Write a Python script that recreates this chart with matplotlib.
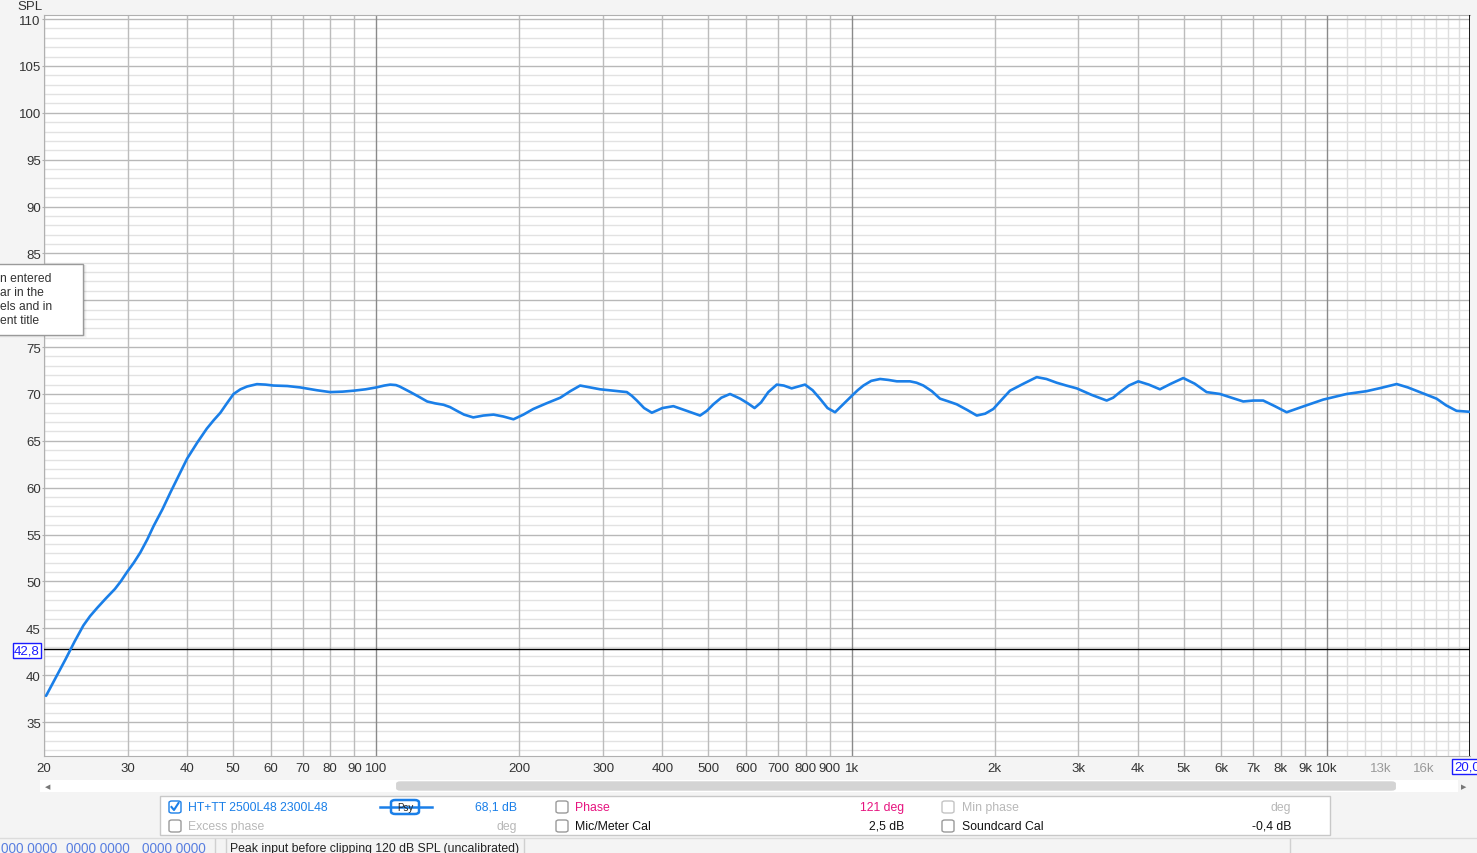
import matplotlib.pyplot as plt
from matplotlib.patches import FancyBboxPatch, Rectangle
from matplotlib.lines import Line2D

plt.rcParams['font.family'] = ['Liberation Sans', 'DejaVu Sans']

freq = [20.2, 21.2, 22.2, 23.2, 24.2, 25.0, 25.9, 27.0, 28.2, 29.0,
        29.9, 30.9, 31.9, 33.0, 34.0, 35.5, 36.9, 38.5, 40.0, 42.0,
        44.0, 45.5, 47.0, 48.5, 50.1, 51.8, 53.5, 56.1, 58.5, 60.8,
        65, 69.2, 75, 80, 85, 89.6, 95, 100, 104, 107,
        110, 112, 115, 118, 123, 128, 133, 138.5, 143, 147.8,
        153, 160, 168, 176.5, 185, 194.4, 204, 214, 228, 243.8,
        256, 268.5, 282, 295.8, 315, 336.7, 345, 353.4, 366, 380,
        400, 421.9, 450, 480, 496, 512, 532, 555, 583, 605,
        625, 645, 668, 696, 720, 748, 772, 798, 828, 858,
        890, 923, 960, 1001, 1030, 1059, 1100, 1148, 1195, 1245,
        1285, 1327, 1370, 1416, 1475, 1535, 1600, 1664, 1750, 1834,
        1910, 1987, 2070, 2154, 2300, 2452, 2570, 2701, 2830, 2976,
        3200, 3441, 3550, 3670, 3830, 4011, 4220, 4454, 4700, 4986,
        5270, 5585, 5957, 6300, 6668, 7000, 7345, 7770, 8228, 8950,
        9821, 10400, 11000, 12120, 13000, 14020, 14800, 15690, 17010, 17800,
        18740, 19990]
spl = [37.8, 39.8, 41.7, 43.6, 45.3, 46.3, 47.2, 48.2, 49.2, 50.0,
       51.0, 52.0, 53.1, 54.5, 55.9, 57.7, 59.5, 61.4, 63.1, 64.8,
       66.3, 67.2, 68.0, 69.0, 70.0, 70.5, 70.8, 71.05, 71.0, 70.9,
       70.85, 70.7, 70.4, 70.2, 70.25, 70.35, 70.5, 70.7, 70.9, 71.0,
       70.95, 70.8, 70.5, 70.2, 69.7, 69.2, 69.0, 68.85, 68.6, 68.2,
       67.8, 67.5, 67.7, 67.8, 67.6, 67.3, 67.8, 68.4, 69.0, 69.6,
       70.3, 70.9, 70.7, 70.5, 70.35, 70.2, 69.8, 69.3, 68.5, 68.0,
       68.5, 68.7, 68.2, 67.7, 68.2, 68.9, 69.6, 70.0, 69.5, 69.0,
       68.5, 69.1, 70.2, 71.0, 70.9, 70.6, 70.8, 71.0, 70.4, 69.5,
       68.5, 68.05, 68.9, 69.8, 70.4, 70.9, 71.4, 71.6, 71.5, 71.35,
       71.35, 71.35, 71.2, 70.9, 70.3, 69.5, 69.2, 68.9, 68.3, 67.7,
       67.9, 68.4, 69.4, 70.35, 71.1, 71.8, 71.6, 71.2, 70.9, 70.6,
       69.9, 69.3, 69.6, 70.2, 70.9, 71.35, 71.0, 70.5, 71.1, 71.7,
       71.1, 70.2, 70.0, 69.6, 69.2, 69.3, 69.3, 68.7, 68.05, 68.7,
       69.4, 69.7, 70.0, 70.3, 70.65, 71.06, 70.7, 70.2, 69.5, 68.8,
       68.2, 68.1]

xtick_vals = [20, 30, 40, 50, 60, 70, 80, 90, 100, 200, 300, 400, 500, 600, 700,
              800, 900, 1000, 2000, 3000, 4000, 5000, 6000, 7000, 8000, 9000,
              10000, 13000, 16000]
xtick_labels = ['20', '30', '40', '50', '60', '70', '80', '90', '100', '200', '300',
                '400', '500', '600', '700', '800', '900', '1k', '2k', '3k', '4k',
                '5k', '6k', '7k', '8k', '9k', '10k', '13k', '16k']
ytick_vals = list(range(35, 111, 5))
# the 80 label sits under the tooltip in the screenshot
ytick_labels = ['' if v == 80 else str(v) for v in ytick_vals]

cursor_spl = 42.8
cursor_freq = 20000

W, H = 1477, 854


def fx(x):
    return x / W


def fy(y):
    return 1 - y / H


fig = plt.figure(figsize=(W / 100, H / 100), dpi=100, facecolor='#f4f4f4')
ax = fig.add_axes([fx(44), fy(757), fx(1470) - fx(44), fy(16) - fy(757)])
ax.set_facecolor('white')
ax.set_xscale('log')
ax.set_xlim(20, 20000)
ax.set_ylim(31.38, 110.43)

# grid
ax.hlines([v for v in range(32, 111) if v % 5], 20, 20000, colors='#e2e2e2', lw=1, zorder=1)
ax.hlines(ytick_vals, 20, 20000, colors='#b8b8b8', lw=1, zorder=2)
light_x = [11000, 12000, 13000, 14000, 15000, 16000, 17000, 18000, 19000]
mid_x = [v for v in xtick_vals if v not in (100, 1000, 10000) and v < 10000]
ax.vlines(light_x, 0, 200, colors='#dedede', lw=1, zorder=1)
ax.vlines(mid_x, 0, 200, colors='#bcbcbc', lw=1, zorder=2)
ax.vlines([100, 1000, 10000], 0, 200, colors='#8a8a8a', lw=1, zorder=2)

ax.plot(freq, spl, color='#1a7fe8', lw=1.9, zorder=5, solid_capstyle='round',
        solid_joinstyle='round')

# cursors
ax.axhline(cursor_spl, color='black', lw=1, zorder=4)
ax.axvline(cursor_freq, color='black', lw=2, zorder=4)

ax.set_xticks(xtick_vals, xtick_labels)
ax.xaxis.set_minor_locator(plt.NullLocator())
ax.set_yticks(ytick_vals, ytick_labels)
ax.tick_params(axis='both', color='#b0b0b0', labelsize=9.5, labelcolor='#333333')
ax.tick_params(axis='y', length=1.5, pad=0.8)
ax.tick_params(axis='x', length=0, pad=4)
for lbl in ax.get_xticklabels():
    if lbl.get_text() in ('13k', '16k'):
        lbl.set_color('#999999')
for side in ('left', 'bottom', 'top'):
    ax.spines[side].set_color('#b0b0b0')
ax.spines['right'].set_visible(False)

fig.text(fx(30), fy(6.5), 'SPL', ha='center', va='center', fontsize=9.5, color='#333333')
fig.text(fx(27), fy(651.5), '42,8', ha='center', va='center', fontsize=9.5, color='#1a1aff',
         bbox=dict(boxstyle='square,pad=0.12', fc='white', ec='#1a1aff', lw=1))
fig.text(fx(1454), fy(767.5), '20,0', ha='left', va='center', fontsize=9.5, color='#1a1aff',
         bbox=dict(boxstyle='square,pad=0.12', fc='white', ec='#1a1aff', lw=1))

# tooltip on the left
for i, a in enumerate([0.06, 0.035, 0.02]):
    fig.patches.append(Rectangle((fx(-5), fy(337 + i)), fx(85 + i) - fx(-5), fy(266) - fy(337 + i),
                                 transform=fig.transFigure, fc='black', alpha=a, ec='none', zorder=8))
fig.patches.append(Rectangle((fx(-5), fy(336)), fx(83) - fx(-5), fy(265) - fy(336),
                             transform=fig.transFigure, fc='white', ec='#9a9a9a', lw=1, zorder=9))
for i, t in enumerate(['n entered', 'ar in the', 'els and in', 'ent title']):
    fig.text(fx(0), fy(279.5 + 14 * i), t, ha='left', va='center', fontsize=8.7,
             color='#333333', zorder=10)

# scroll bar
fig.patches.append(Rectangle((fx(40), fy(793)), fx(1458) - fx(40), fy(781) - fy(793),
                             transform=fig.transFigure, fc='white', ec='none'))
fig.patches.append(FancyBboxPatch((fx(399), fy(790)), fx(1393) - fx(399), fy(784) - fy(790),
                                  boxstyle='round,pad=0.002,rounding_size=0.003',
                                  transform=fig.transFigure, fc='#d4d4d4', ec='none'))
fig.text(fx(48), fy(787), '◀', ha='center', va='center', fontsize=5, color='#777777',
         family='DejaVu Sans')
fig.text(fx(1464), fy(787), '▶', ha='center', va='center', fontsize=5, color='#777777',
         family='DejaVu Sans')

# legend panel
fig.patches.append(Rectangle((fx(160), fy(836)), fx(1330) - fx(160), fy(797) - fy(836),
                             transform=fig.transFigure, fc='white', ec='#c8c8c8', lw=1))


def checkbox(x, y, edge='#9a9a9a', checked=False):
    fig.patches.append(FancyBboxPatch((fx(x - 6), fy(y + 6)), fx(12) - fx(0), fy(0) - fy(12),
                                      boxstyle='round,pad=0,rounding_size=0.002',
                                      transform=fig.transFigure, fc='white', ec=edge, lw=1))
    if checked:
        fig.lines.append(Line2D([fx(x - 3.5), fx(x - 1), fx(x + 3.5)],
                                [fy(y), fy(y + 3), fy(y - 4)],
                                transform=fig.transFigure, color=edge, lw=1.5))


row1, row2 = 808, 827
blue = '#1a7fe8'
pink = '#e6137f'
faint = '#b8b8b8'
fs = 8.8

checkbox(175, row1, edge=blue, checked=True)
fig.text(fx(188), fy(row1), 'HT+TT 2500L48 2300L48', va='center', fontsize=fs, color=blue)
fig.lines.append(Line2D([fx(380), fx(432)], [fy(row1), fy(row1)], transform=fig.transFigure,
                        color=blue, lw=1.8))
fig.patches.append(FancyBboxPatch((fx(391), fy(815)), fx(419) - fx(391), fy(801) - fy(815),
                                  boxstyle='round,pad=0,rounding_size=0.003',
                                  transform=fig.transFigure, fc='white', ec=blue, lw=1.8))
fig.text(fx(405), fy(row1), 'Psy', ha='center', va='center', fontsize=7, color='#222222')
fig.text(fx(517), fy(row1), '68,1 dB', ha='right', va='center', fontsize=fs, color=blue)

checkbox(175, row2)
fig.text(fx(188), fy(row2), 'Excess phase', va='center', fontsize=fs, color=faint)
fig.text(fx(517), fy(row2), 'deg', ha='right', va='center', fontsize=fs, color=faint)

checkbox(562, row1)
fig.text(fx(575), fy(row1), 'Phase', va='center', fontsize=fs, color=pink)
fig.text(fx(904), fy(row1), '121 deg', ha='right', va='center', fontsize=fs, color=pink)
checkbox(562, row2)
fig.text(fx(575), fy(row2), 'Mic/Meter Cal', va='center', fontsize=fs, color='#111111')
fig.text(fx(904), fy(row2), '2,5 dB', ha='right', va='center', fontsize=fs, color='#111111')

checkbox(948, row1, edge='#c4c4c4')
fig.text(fx(962), fy(row1), 'Min phase', va='center', fontsize=fs, color=faint)
fig.text(fx(1291), fy(row1), 'deg', ha='right', va='center', fontsize=fs, color=faint)
checkbox(948, row2)
fig.text(fx(962), fy(row2), 'Soundcard Cal', va='center', fontsize=fs, color='#111111')
fig.text(fx(1291), fy(row2), '-0,4 dB', ha='right', va='center', fontsize=fs, color='#111111')

# status bar
fig.lines.append(Line2D([0, 1], [fy(839), fy(839)], transform=fig.transFigure, color='#dcdcdc', lw=1))
for xs in (215, 226, 524, 1290):
    fig.lines.append(Line2D([fx(xs), fx(xs)], [fy(840), 0], transform=fig.transFigure,
                            color='#d0d0d0', lw=1))
for gx, g in zip((1, 66, 142), ('000 0000', '0000 0000', '0000 0000')):
    fig.text(fx(gx), fy(849.5), g, va='center', fontsize=9.8, color='#5a7fe0')
fig.text(fx(230), fy(849.5), 'Peak input before clipping 120 dB SPL (uncalibrated)', va='center',
         fontsize=8.8, color='#222222')

fig.savefig('out.png', dpi=100, facecolor=fig.get_facecolor())
